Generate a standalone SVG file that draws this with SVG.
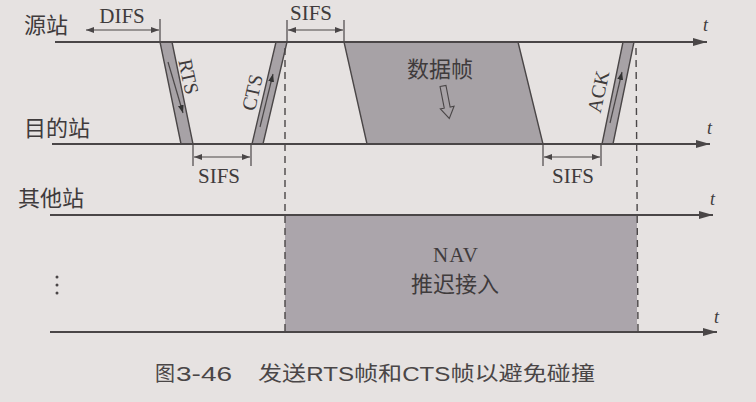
<svg xmlns="http://www.w3.org/2000/svg" width="756" height="402" viewBox="0 0 756 402">
<style>
.line{stroke:#4a4647;stroke-width:1.8;fill:none}
.thin{stroke:#4a4647;stroke-width:1.2;fill:none}
.dash{stroke:#4a4647;stroke-width:1.4;stroke-dasharray:7 5;fill:none}
.band{fill:#a7a2a6;stroke:#4a4647;stroke-width:1.4}
.lab{font-family:"Noto Sans CJK SC","Noto Sans",sans-serif;font-size:22px;fill:#3f3b3c}
.ser{font-family:"Liberation Serif",serif;font-size:21px;fill:#3f3b3c}
.rot{font-family:"Liberation Serif",serif;font-size:20px;fill:#3f3b3c}
.t{font-family:"Liberation Serif",serif;font-style:italic;font-size:18px;fill:#3f3b3c}
.cap{font-family:"Liberation Sans","Noto Sans CJK SC",sans-serif;font-size:20px;fill:#4a4647}
</style>
<defs>
<marker id="big" viewBox="0 0 14 8" refX="14" refY="4" markerWidth="14" markerHeight="8" markerUnits="userSpaceOnUse" orient="auto"><path d="M0,0 L14,4 L0,8 Z" fill="#4a4647"/></marker>
<marker id="sm" viewBox="0 0 8 6" refX="8" refY="3" markerWidth="8" markerHeight="6" markerUnits="userSpaceOnUse" orient="auto-start-reverse"><path d="M0,0 L8,3 L0,6 Z" fill="#4a4647"/></marker>
<marker id="mid" viewBox="0 0 8 6" refX="8" refY="3" markerWidth="8" markerHeight="6" markerUnits="userSpaceOnUse" orient="auto"><path d="M0,0 L8,3 L0,6 Z" fill="#333"/></marker>
</defs>
<rect width="756" height="402" fill="#e6e2e1"/>

<g id="nav">
<rect x="285" y="216" width="352" height="116" fill="#aba5ab"/>
<text class="ser" x="456" y="262" text-anchor="middle" letter-spacing="1">NAV</text>
<text class="lab" x="455" y="292" text-anchor="middle" font-size="23">推迟接入</text>
</g>

<g id="dataframe">
<polygon class="band" points="344,42 518,42 543,144 367,144" fill="#aaa5aa"/>
<text class="lab" x="440" y="77" text-anchor="middle">数据帧</text>
<polygon points="-3,0 3,0 3,22 7,22 0,33 -7,22 -3,22" fill="none" stroke="#4a4647" stroke-width="1.1" transform="translate(443,86) rotate(-11)"/>
</g>

<g id="rts">
<polygon class="band" points="160,42 172,42 193,144 181,144"/>
<line class="thin" x1="168" y1="62" x2="183" y2="113" marker-end="url(#mid)"/>
<text class="rot" transform="translate(182,78) rotate(78)" text-anchor="middle">RTS</text>
</g>

<g id="cts">
<polygon class="band" points="276,42 287,42 263,144 252,144"/>
<line class="thin" x1="260" y1="127" x2="273" y2="74" marker-end="url(#mid)"/>
<text class="rot" transform="translate(259,94) rotate(-77)" text-anchor="middle">CTS</text>
</g>

<g id="ack">
<polygon class="band" points="623,42 634,42 613,144 602,144"/>
<line class="thin" x1="610" y1="123" x2="622" y2="72" marker-end="url(#mid)"/>
<text class="rot" transform="translate(605,93) rotate(-78)" text-anchor="middle">ACK</text>
</g>

<g id="connectors">
<line class="line" x1="55" y1="42" x2="707" y2="42" marker-end="url(#big)"/>
<line class="line" x1="52" y1="144" x2="710" y2="144" marker-end="url(#big)"/>
<line class="line" x1="50" y1="215" x2="713" y2="215" marker-end="url(#big)"/>
<line class="line" x1="50" y1="332" x2="717" y2="332" marker-end="url(#big)"/>
<line class="dash" x1="285" y1="48" x2="285" y2="332"/>
<line class="dash" x1="636" y1="48" x2="638" y2="332"/>
<line class="thin" x1="160" y1="19" x2="160" y2="42"/>
<line class="thin" x1="86" y1="30" x2="159" y2="30" marker-start="url(#sm)" marker-end="url(#sm)"/>
<line class="thin" x1="287" y1="20" x2="287" y2="42"/>
<line class="thin" x1="344" y1="20" x2="344" y2="42"/>
<line class="thin" x1="288" y1="30" x2="343" y2="30" marker-start="url(#sm)" marker-end="url(#sm)"/>
<line class="thin" x1="193" y1="145" x2="193" y2="166"/>
<line class="thin" x1="251" y1="145" x2="251" y2="166"/>
<line class="thin" x1="194" y1="157" x2="250" y2="157" marker-start="url(#sm)" marker-end="url(#sm)"/>
<line class="thin" x1="543" y1="145" x2="543" y2="166"/>
<line class="thin" x1="601" y1="145" x2="601" y2="166"/>
<line class="thin" x1="544" y1="157" x2="600" y2="157" marker-start="url(#sm)" marker-end="url(#sm)"/>
</g>

<g id="labels">
<text class="lab" x="24" y="33">源站</text>
<text class="lab" x="24" y="136">目的站</text>
<text class="lab" x="18" y="206">其他站</text>
<text class="ser" x="122" y="23" text-anchor="middle">DIFS</text>
<text class="ser" x="311" y="20" text-anchor="middle">SIFS</text>
<text class="ser" x="219" y="183" text-anchor="middle">SIFS</text>
<text class="ser" x="573" y="183" text-anchor="middle">SIFS</text>
<text class="t" x="703" y="31">t</text>
<text class="t" x="707" y="134">t</text>
<text class="t" x="710" y="205">t</text>
<text class="t" x="714" y="323">t</text>
<circle cx="57" cy="277" r="1.5" fill="#4a4647"/>
<circle cx="57" cy="285" r="1.5" fill="#4a4647"/>
<circle cx="57" cy="293" r="1.5" fill="#4a4647"/>
</g>

<g id="caption">
<text class="cap" x="155" y="381">图<tspan x="176" textLength="56" lengthAdjust="spacingAndGlyphs">3-46</tspan></text>
<text class="cap" x="258" y="381" textLength="337" lengthAdjust="spacingAndGlyphs">发送RTS帧和CTS帧以避免碰撞</text>
</g>
</svg>
